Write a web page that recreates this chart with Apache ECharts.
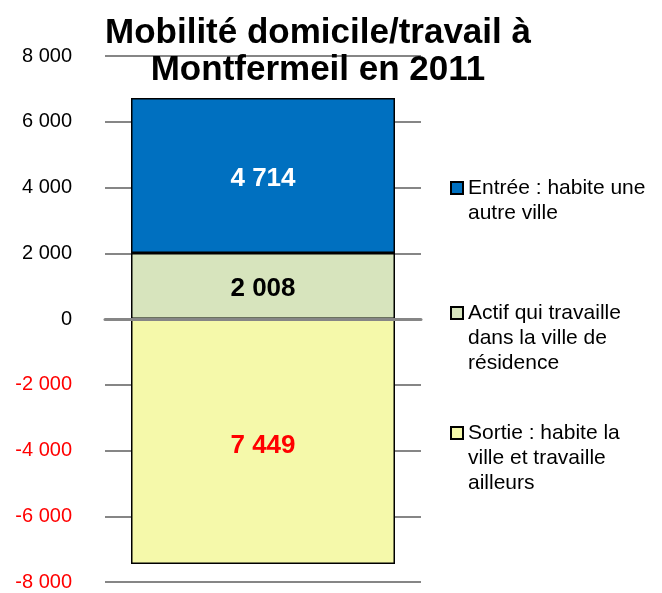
<!DOCTYPE html>
<html>
<head>
<meta charset="utf-8">
<script src="https://cdn.jsdelivr.net/npm/echarts@6/dist/echarts.min.js"></script>
<style>html,body{margin:0;padding:0;background:#fff;}#c{width:662px;height:593px;}</style>
</head>
<body>
<div id="c"></div>
<script>
const categories = [''];
const seriesNames = [
  'Entrée : habite une\nautre ville',
  'Actif qui travaille\ndans la ville de\nrésidence',
  'Sortie : habite la\nville et travaille\nailleurs'
];
const entreeValues = [4714];
const actifValues = [2008];
const sortieValues = [-7449];
const yTicks = [-8000, -6000, -4000, -2000, 0, 2000, 4000, 6000, 8000];

function fmt(v) {
  const s = String(Math.abs(v));
  const out = s.replace(/\B(?=(\d{3})+(?!\d))/g, ' ');
  return (v < 0 ? '-' : '') + out;
}

const chart = echarts.init(document.getElementById('c'), null, {renderer: 'canvas'});
const FONT = '"Liberation Sans", Arial, sans-serif';
const LH = 25;

function legendFor(name, markerCenter) {
  const n = name.split('\n').length;
  const total = 2 * n - 1;
  return {
    data: [name],
    left: 450,
    top: markerCenter - total * LH / 2,
    padding: 0,
    itemWidth: 12,
    itemHeight: 12,
    itemGap: 0,
    icon: 'rect',
    selectedMode: false,
    formatter: nm => '\n'.repeat(n - 1) + nm,
    textStyle: {fontFamily: FONT, fontSize: 21, color: '#000', lineHeight: LH}
  };
}

chart.setOption({
  animation: false,
  backgroundColor: '#fff',
  title: {
    text: 'Mobilité domicile/travail à\nMontfermeil en 2011',
    left: 313, top: 10, textAlign: 'center',
    textStyle: {fontFamily: FONT, fontSize: 35, fontWeight: 'bold', color: '#000', lineHeight: 37}
  },
  legend: [
    legendFor(seriesNames[0], 188),
    legendFor(seriesNames[1], 313),
    legendFor(seriesNames[2], 433)
  ],
  grid: {left: 105, right: 241, top: 56, bottom: 11},
  xAxis: {
    type: 'category', data: categories, z: 5,
    axisLine: {onZero: true, lineStyle: {color: '#868686', width: 3}},
    axisTick: {show: false}, axisLabel: {show: false}
  },
  yAxis: {
    type: 'value', min: yTicks[0], max: yTicks[yTicks.length - 1], interval: 2000,
    axisLine: {show: false}, axisTick: {show: false},
    splitLine: {lineStyle: {color: '#868686', width: 2}},
    axisLabel: {
      margin: 33, fontFamily: FONT, fontSize: 20,
      formatter: v => fmt(v),
      color: v => (Number(v) < 0 ? '#FF0000' : '#000')
    }
  },
  series: [
    {
      name: seriesNames[1], type: 'bar', stack: 's', data: actifValues, barWidth: 264,
      itemStyle: {color: '#D7E4BD', borderColor: '#000', borderWidth: 1.5},
      label: {show: true, position: 'inside', formatter: p => fmt(Math.abs(p.value)), color: '#000',
        fontFamily: FONT, fontWeight: 'bold', fontSize: 26, offset: [0, 3]}
    },
    {
      name: seriesNames[0], type: 'bar', stack: 's', data: entreeValues, barWidth: 264,
      itemStyle: {color: '#0070C0', borderColor: '#000', borderWidth: 1.5},
      label: {show: true, position: 'inside', formatter: p => fmt(Math.abs(p.value)), color: '#fff',
        fontFamily: FONT, fontWeight: 'bold', fontSize: 26, offset: [0, 3]}
    },
    {
      name: seriesNames[2], type: 'bar', stack: 's', data: sortieValues, barWidth: 264,
      itemStyle: {color: '#F5F9AA', borderColor: '#000', borderWidth: 1.5},
      label: {show: true, position: 'inside', formatter: p => fmt(Math.abs(p.value)), color: '#FF0000',
        fontFamily: FONT, fontWeight: 'bold', fontSize: 26, offset: [0, 4]}
    }
  ]
});
</script>
</body>
</html>
